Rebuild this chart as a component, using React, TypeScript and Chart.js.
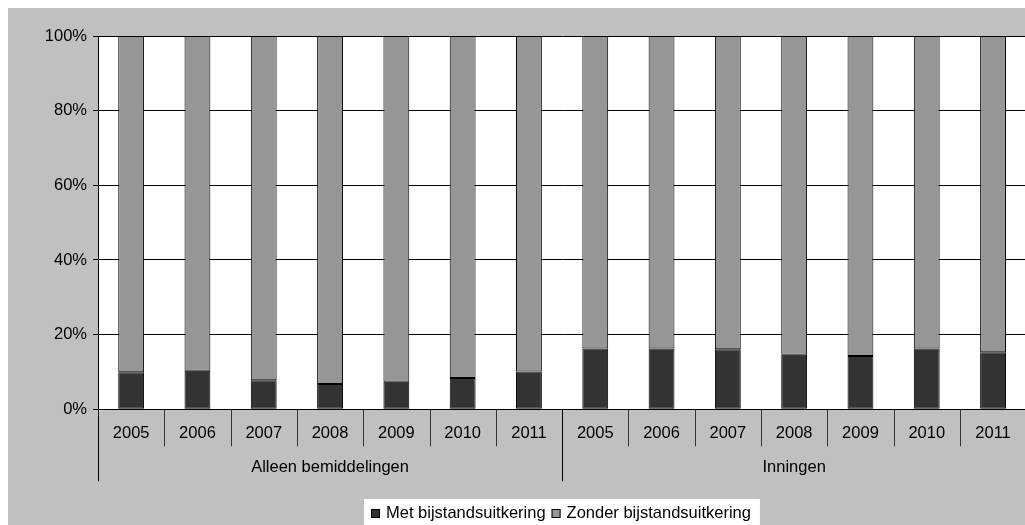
import React, { useEffect, useRef } from 'react';
import { Chart, registerables } from 'chart.js';

Chart.register(...registerables);

const years = ['2005', '2006', '2007', '2008', '2009', '2010', '2011'];
const groups = ['Alleen bemiddelingen', 'Inningen'];
const categories = [...years, ...years];
const metValues = [9.9, 10.3, 7.8, 6.8, 7.4, 8.4, 10.1, 16.3, 16.3, 16.1, 14.6, 14.3, 16.3, 15.3];
const zonderValues = [90.1, 89.7, 92.2, 93.2, 92.6, 91.6, 89.9, 83.7, 83.7, 83.9, 85.4, 85.7, 83.7, 84.7];
const seriesNames = ['Met bijstandsuitkering', 'Zonder bijstandsuitkering'];

const FAMILY = '"Liberation Sans", Arial, Helvetica, sans-serif';
const FONT_SIZE = 16.5;
const FONT = `${FONT_SIZE}px ${FAMILY}`;

const customPlugin = {
  id: 'customDecor',
  beforeDraw(chart: any) {
    const { ctx, chartArea: a } = chart;
    ctx.save();
    ctx.fillStyle = '#ffffff';
    ctx.fillRect(a.left, a.top, a.right - a.left, a.bottom - a.top);
    ctx.restore();
  },
  afterDraw(chart: any) {
    const { ctx, chartArea: a } = chart;
    const xs = chart.scales.x;
    const n = categories.length;
    const step = xs.getPixelForValue(1) - xs.getPixelForValue(0);
    const half = step / 2;
    ctx.save();
    ctx.font = FONT;
    ctx.fillStyle = '#000';
    ctx.textAlign = 'center';
    ctx.textBaseline = 'middle';
    for (let i = 0; i < n; i++) {
      ctx.fillText(categories[i], xs.getPixelForValue(i), a.bottom + 24);
    }
    const groupStarts = [0, years.length, n];
    for (let i = 0; i <= n; i++) {
      const bx = i < n ? xs.getPixelForValue(i) - half : xs.getPixelForValue(n - 1) + half;
      const isGroup = groupStarts.includes(i);
      const px = Math.round(bx) + 0.5;
      ctx.beginPath();
      ctx.strokeStyle = isGroup ? '#000' : '#333';
      ctx.lineWidth = 1;
      ctx.moveTo(px, a.bottom);
      ctx.lineTo(px, a.bottom + (isGroup ? 72 : 37));
      ctx.stroke();
    }
    for (let g = 0; g < groups.length; g++) {
      const s = groupStarts[g];
      const e = groupStarts[g + 1] - 1;
      const cx = (xs.getPixelForValue(s) + xs.getPixelForValue(e)) / 2;
      ctx.fillText(groups[g], cx, a.bottom + 58);
    }
    const ds = chart.data.datasets;
    const marker = 9;
    const gapMT = 6;
    const gapTM = 6;
    const padL = 7;
    const padR = 9;
    let total = 0;
    const widths = ds.map((d: any) => ctx.measureText(d.label).width);
    for (let i = 0; i < ds.length; i++) {
      total += marker + gapMT + widths[i];
      if (i < ds.length - 1) total += gapTM;
    }
    const boxW = total + padL + padR;
    const cxc = (a.left + a.right) / 2;
    const boxL = Math.round(cxc - boxW / 2);
    const boxT = 491;
    ctx.fillStyle = '#ffffff';
    ctx.fillRect(boxL, boxT, boxW, chart.height - boxT);
    const cy = 505;
    let x = boxL + padL;
    ctx.textAlign = 'left';
    for (let i = 0; i < ds.length; i++) {
      ctx.fillStyle = ds[i].backgroundColor;
      ctx.fillRect(x, cy - 4, marker, marker);
      ctx.strokeStyle = '#000';
      ctx.strokeRect(x + 0.5, cy - 3.5, marker - 1, marker - 1);
      x += marker + gapMT;
      ctx.fillStyle = '#000';
      ctx.fillText(ds[i].label, x, cy);
      x += widths[i] + gapTM;
    }
    ctx.restore();
  },
};

export default function App() {
  const ref = useRef<HTMLCanvasElement>(null);
  useEffect(() => {
    document.documentElement.style.overflow = 'hidden';
    if (!ref.current) return;
    const chart = new Chart(ref.current, {
      type: 'bar',
      data: {
        labels: categories,
        datasets: [
          {
            label: seriesNames[0],
            data: metValues,
            backgroundColor: '#333333',
            borderColor: '#000000',
            borderWidth: 1,
            borderSkipped: false,
            barPercentage: 0.39,
            categoryPercentage: 1,
          },
          {
            label: seriesNames[1],
            data: zonderValues,
            backgroundColor: '#969696',
            borderColor: '#000000',
            borderWidth: 1,
            borderSkipped: false,
            barPercentage: 0.39,
            categoryPercentage: 1,
          },
        ],
      },
      options: {
        animation: false,
        responsive: false,
        maintainAspectRatio: false,
        layout: { padding: { left: 0, right: 11.8, top: 28, bottom: 118.7 } },
        plugins: {
          legend: { display: false },
          tooltip: { enabled: false },
        },
        scales: {
          x: {
            type: 'category',
            stacked: true,
            display: false,
            offset: true,
          },
          y: {
            stacked: true,
            min: 0,
            max: 100,
            afterFit: (s: any) => {
              s.width = 90;
            },
            ticks: {
              stepSize: 20,
              padding: 6,
              color: '#000',
              font: { family: FAMILY, size: FONT_SIZE },
              callback: (v: any) => `${v}%`,
            },
            grid: {
              color: '#000',
              lineWidth: 1,
              tickLength: 5,
              drawTicks: true,
            },
            border: { color: '#000', width: 1 },
          },
        },
      },
      plugins: [customPlugin],
    });
    return () => chart.destroy();
  }, []);
  return (
    <div
      style={{
        position: 'fixed',
        left: 8,
        top: 8,
        width: 1017,
        height: 517,
        overflow: 'hidden',
        background: '#c0c0c0',
      }}
    >
      <canvas ref={ref} width={1030} height={520} style={{ display: 'block', width: 1030, height: 520 }} />
    </div>
  );
}
